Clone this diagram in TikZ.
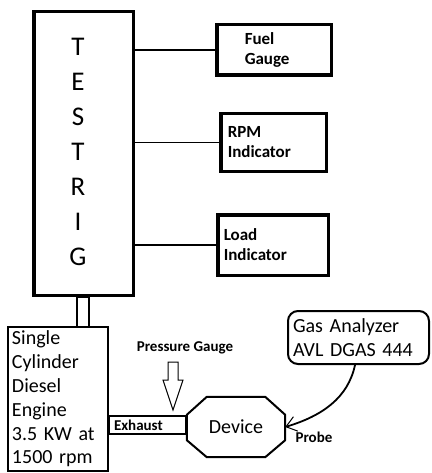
\documentclass[tikz,border=0pt]{standalone}
\usepackage{fontspec}
\setmainfont{Carlito}
\usetikzlibrary{arrows.meta}
\begin{document}
\begin{tikzpicture}[x=1pt,y=-1pt,
  heavybox/.style={draw,line width=3.5pt,rectangle,inner ysep=0pt,align=left,
    font=\bfseries\fontsize{17}{20}\selectfont},
  lightbox/.style={draw,line width=2pt,rectangle,inner ysep=0pt,align=left},
  link/.style={line width=1.6pt},
  smalllabel/.style={font=\bfseries\fontsize{15}{18}\selectfont,inner sep=0pt},
  bigtext/.style={font=\fontsize{20}{23.8}\selectfont}]
\useasboundingbox (0,0) rectangle (431,473);

% Test rig
\node[draw,line width=3.5pt,minimum width=99.5pt,minimum height=283.5pt,inner sep=0pt] (testrig) at (83.5,153.5) {};
\node[font=\fontsize{27}{35}\selectfont,align=center,inner sep=0pt] (letters) at (78,152) {T\\E\\S\\T\\R\\I\\G};

% Instrument boxes
\node[heavybox,minimum width=114.5pt,minimum height=50.5pt,inner xsep=28pt,text width=58.5pt] (fuel) at (274,50) {Fuel\\Gauge};
\node[heavybox,minimum width=105.5pt,minimum height=57.5pt,inner xsep=7pt,text width=91.5pt] (rpm) at (273.5,142.5) {RPM\\Indicator};
\node[heavybox,minimum width=110.5pt,minimum height=60.5pt,inner xsep=6pt,text width=98.5pt] (load) at (273,245) {Load\\Indicator};

\draw[link] (fuel.west) -- (fuel.west -| testrig.east);
\draw[link] (rpm.west) -- (rpm.west -| testrig.east);
\draw[link] (load.west) -- (load.west -| testrig.east);

% Engine
\node[lightbox,bigtext,minimum width=100pt,minimum height=144pt,inner xsep=4pt,text width=92pt] (engine) at (58,399)
  {Single\\Cylinder\\Diesel\\Engine\\3.5 KW at\\1500 rpm};
\node[draw,line width=2pt,minimum width=12.5pt,minimum height=30pt,inner sep=0pt] (shaft) at (83,312) {};

% Exhaust
\node[lightbox,font=\bfseries\fontsize{15}{18}\selectfont,minimum width=77pt,minimum height=18pt,inner xsep=5pt,text width=67pt] (exhaust) at (147.5,425) {Exhaust};

% Device (octagon)
\node[rectangle,minimum width=98pt,minimum height=60pt,inner sep=0pt,bigtext] (device) at (236,427) {Device};
\draw[line width=2pt,line join=round]
  ([xshift=20pt]device.north west) -- ([xshift=-20pt]device.north east)
  -- ([yshift=-18pt]device.north east) -- ([yshift=17pt]device.south east)
  -- ([xshift=-20pt]device.south east) -- ([xshift=20pt]device.south west)
  -- ([yshift=17pt]device.south west) -- ([yshift=-18pt]device.north west) -- cycle;

% Pressure gauge
\node[smalllabel] (pglabel) at (185,348) {Pressure Gauge};
\coordinate (pgtip) at (173,410);
\draw[line width=1pt,line join=miter]
  (168,362) -- (178,362) -- (178,380) -- (183,380) -- (pgtip) -- (163,380) -- (168,380) -- cycle;

% Gas analyzer
\node[lightbox,bigtext,rounded corners=10pt,minimum width=141pt,minimum height=53pt,inner xsep=5pt,text width=131pt] (gas) at (358.5,337.5)
  {Gas Analyzer\\AVL DGAS 444};
\draw[line width=1.8pt,-{Straight Barb[length=10pt,width=15pt,line width=1pt]}]
  ([xshift=-3.5pt]gas.south) .. controls (348,398) and (322,416) .. (device.east);
\node[smalllabel] (probe) at (314,437) {Probe};
\end{tikzpicture}
\end{document}
